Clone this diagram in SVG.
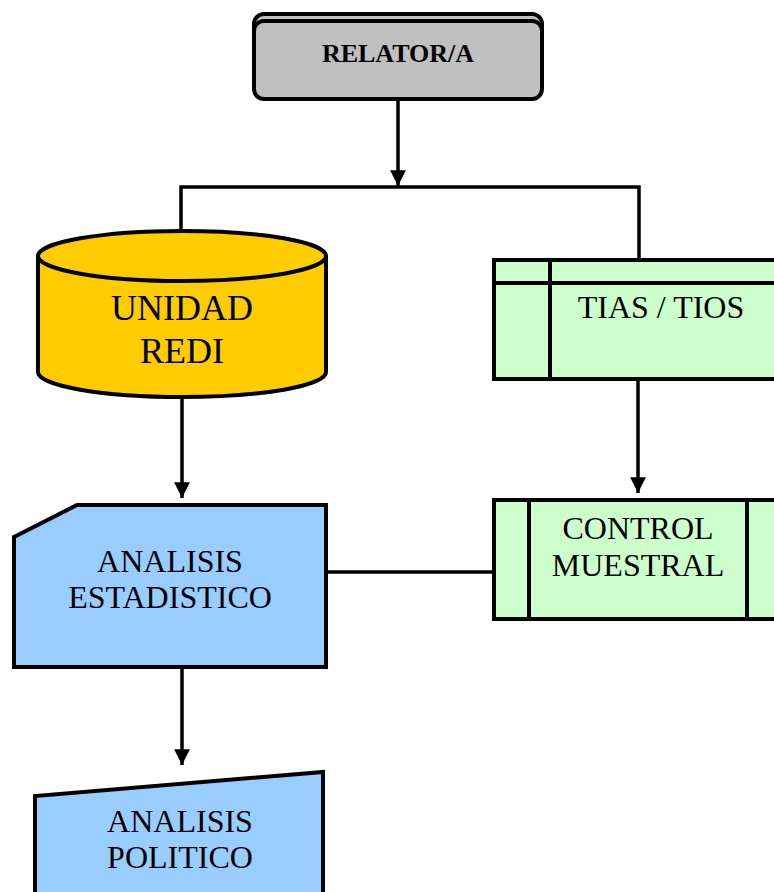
<svg xmlns="http://www.w3.org/2000/svg" width="774" height="892" viewBox="0 0 774 892">
<defs>
<style>
.s{stroke:#000;stroke-width:4;}
.c{stroke:#000;stroke-width:3.5;fill:none;}
.t{font-family:"Liberation Serif","Times New Roman",serif;font-size:32px;fill:#000;text-anchor:middle;}
.b{font-family:"Liberation Serif","Times New Roman",serif;font-size:26px;font-weight:bold;fill:#000;text-anchor:middle;}
</style>
<marker id="ah" viewBox="0 0 10 10" refX="10" refY="5" markerWidth="4.5" markerHeight="4.5" markerUnits="strokeWidth" orient="auto">
<path d="M0,0 L10,5 L0,10 z" fill="#000"/>
</marker>
</defs>
<rect width="774" height="892" fill="#fff"/>
<g id="connectors">
<line class="c" x1="398" y1="99" x2="398" y2="186" marker-end="url(#ah)"/>
<polyline class="c" points="181,232 181,187 639,187 639,260"/>
<line class="c" x1="182" y1="399" x2="182" y2="498" marker-end="url(#ah)"/>
<line class="c" x1="638" y1="380" x2="638" y2="493" marker-end="url(#ah)"/>
<line class="c" x1="326" y1="572" x2="494" y2="572"/>
<line class="c" x1="182" y1="667" x2="182" y2="765" marker-end="url(#ah)"/>
</g>
<g id="relator">
<rect class="s" x="254" y="14" width="288" height="78" rx="10" fill="#c0c0c0"/>
<rect class="s" x="254" y="21" width="288" height="78" rx="10" fill="#c0c0c0"/>
<text class="b" x="398" y="62">RELATOR/A</text>
</g>
<g id="unidad">
<path class="s" d="M38,256 L38,372 A144,25 0 0 0 326,372 L326,256" fill="#ffcc00"/>
<ellipse class="s" cx="182" cy="256" rx="144" ry="25" fill="#ffcc00"/>
<text class="t" x="182" y="320" style="font-size:36px">UNIDAD</text>
<text class="t" x="182" y="363" style="font-size:36px">REDI</text>
</g>
<g id="tias">
<rect class="s" x="494" y="260" width="300" height="119" fill="#ccffcc"/>
<line class="s" x1="494" y1="283" x2="774" y2="283"/>
<line class="s" x1="550" y1="260" x2="550" y2="379"/>
<text class="t" x="661" y="318">TIAS / TIOS</text>
</g>
<g id="control">
<rect class="s" x="494" y="500" width="300" height="119" fill="#ccffcc"/>
<line class="s" x1="529" y1="500" x2="529" y2="619"/>
<line class="s" x1="747" y1="500" x2="747" y2="619"/>
<text class="t" x="638" y="539">CONTROL</text>
<text class="t" x="638" y="576">MUESTRAL</text>
</g>
<g id="estadistico">
<path class="s" d="M14,537 L77,505 L326,505 L326,667 L14,667 Z" fill="#99ccff"/>
<text class="t" x="170" y="572">ANALISIS</text>
<text class="t" x="170" y="608">ESTADISTICO</text>
</g>
<g id="politico">
<path class="s" d="M35,900 L35,796 L323,772 L323,900" fill="#99ccff"/>
<text class="t" x="180" y="832">ANALISIS</text>
<text class="t" x="180" y="868">POLITICO</text>
</g>
</svg>
